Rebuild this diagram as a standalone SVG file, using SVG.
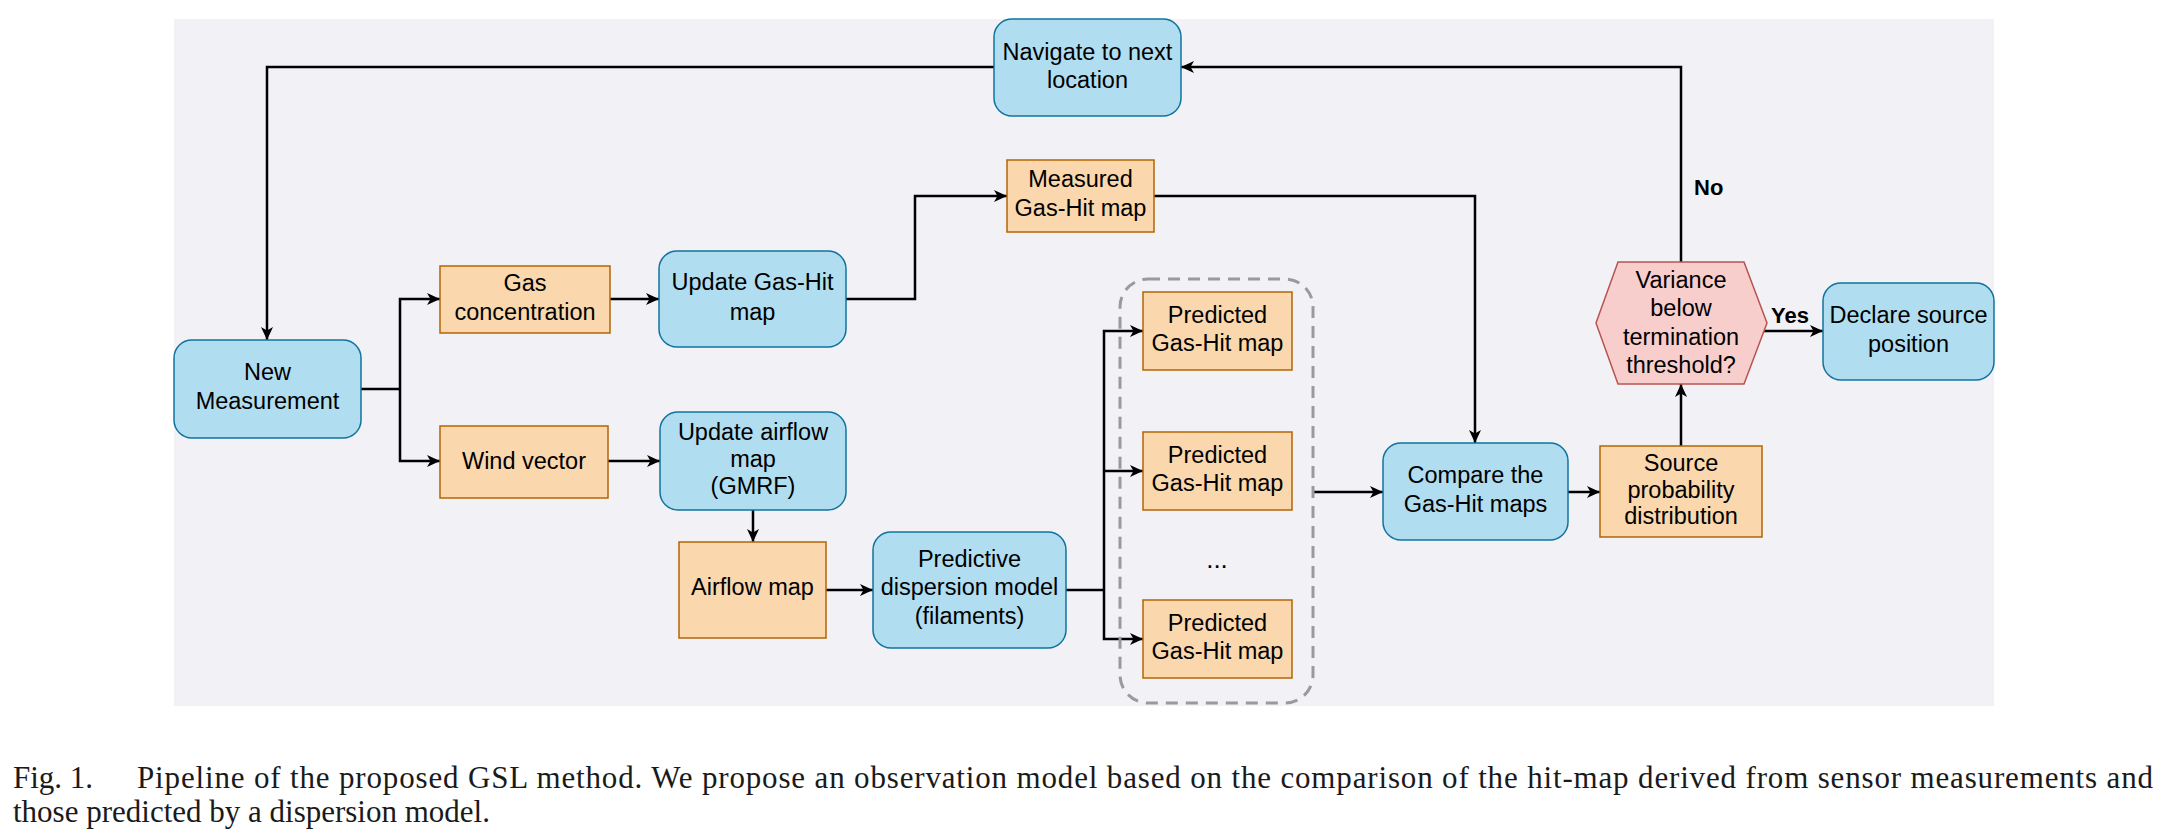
<svg xmlns="http://www.w3.org/2000/svg" width="2162" height="836" viewBox="0 0 2162 836">
<defs>
<marker id="arr" markerUnits="userSpaceOnUse" markerWidth="14" markerHeight="12" refX="13" refY="6" orient="auto">
<path d="M0,0 L13,6 L0,12 L3.5,6 z" fill="#000"/>
</marker>
<style>
.blue{fill:#b1ddf0;stroke:#10739e;stroke-width:1.5}
.orange{fill:#fad7ac;stroke:#b46504;stroke-width:1.5}
.red{fill:#f8cecc;stroke:#b85450;stroke-width:1.5}
.grp{fill:none;stroke:#9a9a9a;stroke-width:3;stroke-dasharray:12 8}
.t{font-family:"Liberation Sans",Arial,sans-serif;font-size:23.5px;fill:#000;text-anchor:middle}
.b{font-family:"Liberation Sans",Arial,sans-serif;font-size:22px;font-weight:bold;fill:#000}
.cap{font-family:"Liberation Serif","Times New Roman",serif;font-size:31px;fill:#1a1a1a}
.c{fill:none;stroke:#000;stroke-width:2.5}
.ca{fill:none;stroke:#000;stroke-width:2.5;marker-end:url(#arr)}
</style>
</defs>
<rect x="174" y="19" width="1820" height="687" fill="#f2f1f6"/>

<g id="connectors">
<path class="ca" d="M994,67 H267 V340"/>
<path class="c" d="M361,389 H400"/>
<path class="ca" d="M400,389 V299 H440"/>
<path class="ca" d="M400,389 V461 H440"/>
<path class="ca" d="M610,299 H659"/>
<path class="ca" d="M608,461 H660"/>
<path class="ca" d="M846,299 H915 V196 H1007"/>
<path class="ca" d="M753,510 V542"/>
<path class="ca" d="M826,590 H873"/>
<path class="c" d="M1066,590 H1104"/>
<path class="ca" d="M1104,590 V331 H1143"/>
<path class="ca" d="M1104,471 H1143"/>
<path class="ca" d="M1104,590 V639 H1143"/>
<path class="ca" d="M1154,196 H1475 V443"/>
<path class="ca" d="M1313,492 H1383"/>
<path class="ca" d="M1568,492 H1600"/>
<path class="ca" d="M1681,446 V384"/>
<path class="ca" d="M1681,262 V67 H1181"/>
<path class="ca" d="M1764,331 H1823"/>
<text class="b" x="1694" y="195">No</text>
<text class="b" x="1790" y="323" text-anchor="middle">Yes</text>
</g>

<g id="navigate">
<rect class="blue" x="994" y="19" width="187" height="97" rx="18"/>
<text class="t" x="1087.5" y="60">Navigate to next</text>
<text class="t" x="1087.5" y="88">location</text>
</g>
<g id="new-measurement">
<rect class="blue" x="174" y="340" width="187" height="98" rx="18"/>
<text class="t" x="267.5" y="380">New</text>
<text class="t" x="267.5" y="409">Measurement</text>
</g>
<g id="gas-concentration">
<rect class="orange" x="440" y="266" width="170" height="67"/>
<text class="t" x="525" y="291">Gas</text>
<text class="t" x="525" y="320">concentration</text>
</g>
<g id="update-gas-hit">
<rect class="blue" x="659" y="251" width="187" height="96" rx="18"/>
<text class="t" x="752.5" y="290">Update Gas-Hit</text>
<text class="t" x="752.5" y="320">map</text>
</g>
<g id="wind-vector">
<rect class="orange" x="440" y="426" width="168" height="72"/>
<text class="t" x="524" y="469">Wind vector</text>
</g>
<g id="update-airflow">
<rect class="blue" x="660" y="412" width="186" height="98" rx="18"/>
<text class="t" x="753" y="440">Update airflow</text>
<text class="t" x="753" y="467">map</text>
<text class="t" x="753" y="494">(GMRF)</text>
</g>
<g id="airflow-map">
<rect class="orange" x="679" y="542" width="147" height="96"/>
<text class="t" x="752.5" y="595">Airflow map</text>
</g>
<g id="predictive">
<rect class="blue" x="873" y="532" width="193" height="116" rx="18"/>
<text class="t" x="969.5" y="567">Predictive</text>
<text class="t" x="969.5" y="595">dispersion model</text>
<text class="t" x="969.5" y="624">(filaments)</text>
</g>
<g id="measured">
<rect class="orange" x="1007" y="160" width="147" height="72"/>
<text class="t" x="1080.5" y="187">Measured</text>
<text class="t" x="1080.5" y="216">Gas-Hit map</text>
</g>
<g id="predicted-group">
<rect class="grp" x="1120" y="279" width="193" height="424" rx="28"/>
<g id="predicted-1">
<rect class="orange" x="1143" y="292" width="149" height="78"/>
<text class="t" x="1217.5" y="323">Predicted</text>
<text class="t" x="1217.5" y="351">Gas-Hit map</text>
</g>
<g id="predicted-2">
<rect class="orange" x="1143" y="432" width="149" height="78"/>
<text class="t" x="1217.5" y="463">Predicted</text>
<text class="t" x="1217.5" y="491">Gas-Hit map</text>
</g>
<text class="t" x="1217" y="568" style="font-size:26px">...</text>
<g id="predicted-3">
<rect class="orange" x="1143" y="600" width="149" height="78"/>
<text class="t" x="1217.5" y="631">Predicted</text>
<text class="t" x="1217.5" y="659">Gas-Hit map</text>
</g>
</g>
<g id="compare">
<rect class="blue" x="1383" y="443" width="185" height="97" rx="18"/>
<text class="t" x="1475.5" y="483">Compare the</text>
<text class="t" x="1475.5" y="512">Gas-Hit maps</text>
</g>
<g id="source">
<rect class="orange" x="1600" y="446" width="162" height="91"/>
<text class="t" x="1681" y="471">Source</text>
<text class="t" x="1681" y="498">probability</text>
<text class="t" x="1681" y="524">distribution</text>
</g>
<g id="variance">
<polygon class="red" points="1618,262 1744,262 1767,323 1744,384 1618,384 1596,323"/>
<text class="t" x="1681" y="288">Variance</text>
<text class="t" x="1681" y="316">below</text>
<text class="t" x="1681" y="345">termination</text>
<text class="t" x="1681" y="373">threshold?</text>
</g>
<g id="declare">
<rect class="blue" x="1823" y="283" width="171" height="97" rx="18"/>
<text class="t" x="1908.5" y="323">Declare source</text>
<text class="t" x="1908.5" y="352">position</text>
</g>

<g id="caption">
<text class="cap" x="13" y="788">Fig. 1.</text>
<text class="cap" x="137" y="788" textLength="2016" lengthAdjust="spacing">Pipeline of the proposed GSL method. We propose an observation model based on the comparison of the hit-map derived from sensor measurements and</text>
<text class="cap" x="13" y="822">those predicted by a dispersion model.</text>
</g>
</svg>
